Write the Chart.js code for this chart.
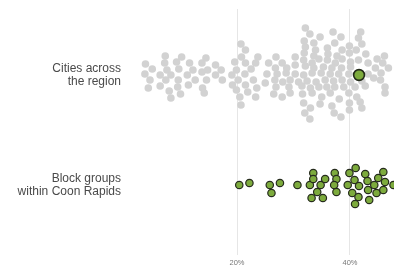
<!DOCTYPE html>
<html><head><meta charset="utf-8">
<script src="https://cdn.jsdelivr.net/npm/chart.js@4"></script>
<style>html,body{margin:0;padding:0;background:#fff;overflow:hidden}#wrap{width:394px;height:266px;position:relative}</style>
</head><body><div id="wrap"><canvas id="c"></canvas></div>
<script>
// Row labels (y categories)
const rowLabels = [["Cities across", "the region"], ["Block groups", "within Coon Rapids"]];
// x tick labels (percent)
const xTicks = [20, 40];

// Cities across the region: value (%) and beeswarm stack offset
const cityValues = [
  3.8,5.0,3.7,4.6,4.3,6.4,6.4,7.3,7.2,7.6,7.4,8.3,8.0,8.3,9.3,9.7,9.6,9.5,10.0,10.2,11.2,11.4,11.6,12.2,12.6,
  13.8,14.5,13.8,14.8,14.6,13.9,14.2,16.2,16.2,17.2,17.4,19.1,19.2,19.6,19.9,20.2,19.9,20.5,20.7,20.7,21.5,20.8,21.5,21.4,21.5,21.9,22.5,22.9,23.5,23.3,23.7,23.3,
  32.1,32.9,37.0,38.4,41.9,41.5,
  31.9,33.6,34.7,37.3,
  32.1,33.9,36.0,38.6,39.9,42.1,41.1,
  31.9,33.6,36.1,37.7,39.9,42.8,46.1,
  26.9,30.3,31.8,33.3,34.5,36.0,37.4,38.6,40.1,41.5,43.2,44.8,45.8,
  25.6,28.0,
  26.8,28.8,30.3,32.1,33.6,35.3,36.8,38.5,40.1,44.5,46.8,
  25.3,27.1,28.7,30.3,31.8,33.3,34.9,36.5,38.0,39.8,43.2,45.5,
  25.0,26.7,28.1,29.4,30.9,32.4,34.0,35.6,37.1,38.6,40.1,42.1,44.2,45.4,
  26.9,29.2,31.5,33.0,34.5,35.9,37.3,38.9,40.9,42.7,46.2,
  26.5,29.4,31.6,33.3,35.0,36.5,38.1,39.8,41.2,46.2,
  28.0,31.8,33.0,34.7,36.8,37.2,39.9,39.9,41.8,42.1,32.0,32.9,38.4
];
const cityOffsets = [
  -11,-6,-1,5,13,0,11,-19,-12,-5,5,0,16,23,-13,-6,5,12,19,-18,0,10,-12,-5,5,
  -12,-17,-3,-5,5,13,18,-10,0,-5,5,0,10,-13,-5,5,15,22,30,-31,-25,-18,-12,-1,10,17,-6,5,13,22,-18,-12,
  -47,-41,-43,-38,-43,-37,
  -34,-32,-38,-32,
  -28,-25,-27,-25,-29,-31,-25,
  -22,-19,-21,-19,-22,-21,-19,
  -18,-18,-15,-12,-16,-15,-12,-16,-13,-15,-12,-16,-12,
  -12,-12,
  -7,-7,-10,-9,-7,-8,-7,-7,-8,-7,-7,
  -1,-1,-2,-1,0,-2,-2,-1,-1,-1,-1,-2,
  8,5,7,5,7,6,7,5,6,5,7,6,3,5,
  12,12,11,13,12,12,12,12,12,11,12,
  19,18,19,18,22,18,24,18,22,18,
  22,28,33,29,31,38,28,35,27,33,38,44,42
];
// Coon Rapids among the cities (highlighted)
const highlightValues = [41.6];
const highlightOffsets = [0];

// Block groups within Coon Rapids
const blockValues = [
  20.4,22.2,25.8,26.1,27.6,30.7,
  32.9,33.5,33.5,34.8,35.6,34.2,33.2,35.2,
  37.3,37.6,37.2,37.6,
  39.9,41.0,39.6,40.8,41.6,40.4,41.5,40.9,
  42.7,43.1,43.2,43.4,44.3,44.7,45.0,45.9,46.2,45.9,47.7
];
const blockOffsets = [
  0,-2,0,8,-2,0,
  0,-12,-6,0,-6,7,13,13,
  -12,-6,0,7,
  -12,-17,0,-5,1,8,12,19,
  -11,-4,5,15,0,8,-7,-13,-3,5,0
];

const ROW_GAP = 110;
const rowCenters = rowLabels.map((_, i) => i * ROW_GAP);
const pts = (vals, offs, row) => vals.map((v, i) => ({x: v, y: rowCenters[row] + offs[i]}));

const FONT = "'Liberation Sans', Arial, Helvetica, sans-serif";
const noPad = s => { s.paddingTop = 0; s.paddingBottom = 0; s.paddingLeft = 0; s.paddingRight = 0; };

new Chart(document.getElementById('c'), {
  type: 'scatter',
  data: {
    datasets: [
      {data: pts(highlightValues, highlightOffsets, 0), order: 0, backgroundColor: '#7dab3d', borderColor: '#232a1a', borderWidth: 1.6, pointRadius: 5.4, clip: false},
      {data: pts(cityValues, cityOffsets, 0), order: 2, backgroundColor: '#d2d2d2', borderWidth: 0, pointRadius: 3.8, clip: false},
      {data: pts(blockValues, blockOffsets, 1), order: 1, backgroundColor: '#7dab3d', borderColor: '#262b1e', borderWidth: 1.2, pointRadius: 3.7, clip: false}
    ]
  },
  options: {
    animation: false,
    responsive: true,
    maintainAspectRatio: false,
    devicePixelRatio: 1,
    layout: {autoPadding: false, padding: {top: 9, left: 0, right: 0, bottom: 0}},
    plugins: {legend: {display: false}, tooltip: {enabled: false}},
    events: [],
    scales: {
      x: {
        type: 'linear', position: 'bottom',
        min: 1.06, max: 47.79,
        afterBuildTicks: s => { s.ticks = xTicks.map(v => ({value: v})); },
        afterFit: s => { s.height = 11; noPad(s); },
        grid: {color: '#e6e6e6', lineWidth: 1, drawTicks: false},
        border: {display: false},
        ticks: {padding: 3, color: '#777', font: {family: FONT, size: 7.5}, callback: v => v + '%', maxRotation: 0}
      },
      y: {
        type: 'linear', position: 'left', reverse: true,
        min: -66, max: 180,
        afterBuildTicks: s => { s.ticks = rowCenters.map(v => ({value: v})); },
        afterFit: s => { s.width = 130; noPad(s); },
        grid: {display: false, drawTicks: false},
        border: {display: false},
        ticks: {padding: 9, color: '#4a4a4a', font: {family: FONT, size: 12, lineHeight: 1.12},
          callback: v => { const i = rowCenters.indexOf(v); return i >= 0 ? rowLabels[i] : ''; }}
      }
    }
  }
});
</script></body></html>
